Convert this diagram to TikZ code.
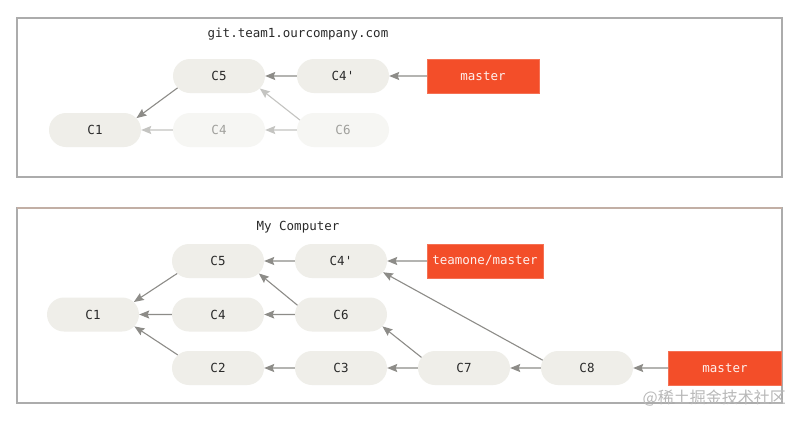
\documentclass[tikz,border=0pt]{standalone}
\usepackage{fontspec}
\setmonofont{DejaVu Sans Mono}
\newfontfamily\cjkfont{Noto Sans CJK SC}
\usetikzlibrary{shapes.misc,arrows.meta}
\definecolor{nodefill}{HTML}{EFEEE9}
\definecolor{fadefill}{HTML}{F6F6F3}
\definecolor{txt}{HTML}{2A2A2A}
\definecolor{fadetxt}{HTML}{A0A09C}
\definecolor{arr}{HTML}{8D8C88}
\definecolor{fadearr}{HTML}{C4C4C1}
\definecolor{gitred}{HTML}{F34E29}
\definecolor{frame}{HTML}{ACACAC}
\definecolor{frametop}{HTML}{C2AFA5}
\tikzset{
  commit/.style={rounded rectangle, fill=nodefill, minimum width=92pt, minimum height=34pt, inner sep=0pt, text=txt, font=\ttfamily\fontsize{12.5}{14}\selectfont},
  fadecommit/.style={commit, fill=fadefill, text=fadetxt},
  branch/.style={rectangle, fill=gitred, draw=gitred!80!white, line width=0.5pt, minimum height=34pt, inner sep=0pt, text=white!92!gitred, font=\ttfamily\fontsize{12.5}{14}\selectfont},
  link/.style={draw=arr, line width=1.1pt, -{Stealth[length=10pt,width=8pt,inset=1.5pt]}},
  fadelink/.style={link, draw=fadearr},
  title/.style={text=txt, font=\ttfamily\fontsize{12.5}{14}\selectfont},
  box/.style={draw=frame, line width=1.4pt}
}
\begin{document}
\begin{tikzpicture}[x=1pt,y=-1pt]
\path[use as bounding box, fill=white] (0,0) rectangle (800,421);
% frames
\draw[box] (17,18) rectangle (782,177);
\draw[box] (17,208) rectangle (782,403);
\draw[frametop, line width=1.4pt] (17,208) -- (782,208);
% top
\node[title] (t1) at (298,34) {git.team1.ourcompany.com};
\node[commit] (a5) at (219,76) {C5};
\node[commit] (a4p) at (343,76) {C4'};
\node[branch, minimum width=112pt] (am) at (483,76) {master};
\node[commit] (a1) at (95,130) {C1};
\node[fadecommit] (a4) at (219,130) {C4};
\node[fadecommit] (a6) at (343,130) {C6};
\draw[link] (a4p) -- (a5);
\draw[link] (am) -- (a4p);
\draw[link] (a5.196) -- (a1.16);
\draw[fadelink] (a4) -- (a1);
\draw[fadelink] (a6) -- (a4);
\draw[fadelink] (a6.167) -- (a5.343);
% bottom
\node[title] (t2) at (298,227) {My Computer};
\node[commit] (b5) at (218,261) {C5};
\node[commit] (b4p) at (341,261) {C4'};
\node[branch, minimum width=116pt] (btm) at (485,261) {teamone/master};
\node[commit] (b1) at (93,314.5) {C1};
\node[commit] (b4) at (218,314.5) {C4};
\node[commit] (b6) at (341,314.5) {C6};
\node[commit] (b2) at (218,368) {C2};
\node[commit] (b3) at (341,368) {C3};
\node[commit] (b7) at (464,368) {C7};
\node[commit] (b8) at (587,368) {C8};
\node[branch, minimum width=113pt] (bm) at (725,368) {master};
\draw[link] (b4p) -- (b5);
\draw[link] (btm) -- (b4p);
\draw[link] (b5.197) -- (b1.17);
\draw[link] (b4) -- (b1);
\draw[link] (b2.162) -- (b1.344);
\draw[link] (b6.168) -- (b5.343);
\draw[link] (b6) -- (b4);
\draw[link] (b3) -- (b2);
\draw[link] (b7) -- (b3);
\draw[link] (b7.166) -- (b6.344);
\draw[link] (b8) -- (b7);
\draw[link] (b8.170) -- (b4p.345);
\draw[link] (bm) -- (b8);
% watermark
\node[text=black!28, font=\cjkfont\fontsize{16}{18}\selectfont, anchor=east, inner sep=0pt] (wm) at (786,398) {@稀土掘金技术社区};
\end{tikzpicture}
\end{document}
